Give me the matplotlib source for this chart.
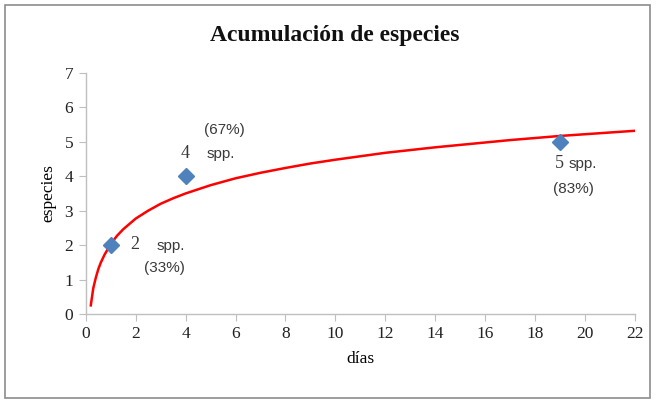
import matplotlib.pyplot as plt
from matplotlib.patches import Rectangle

plt.rcParams['font.family'] = 'Liberation Serif'

# observed points (dias, especies)
obs_x = [1, 4, 19]
obs_y = [2, 4, 5]

# logarithmic trend line
trend_x = [0.2, 0.3, 0.4, 0.5, 0.6, 0.75, 1, 1.25, 1.5, 2, 2.5, 3, 3.5, 4, 5, 6,
           7, 8, 9, 10, 11, 12, 13, 14, 15, 16, 17, 18, 19, 20, 21, 22]
trend_y = [0.25, 0.75, 1.05, 1.3, 1.49, 1.72, 2.03, 2.27, 2.46, 2.77, 3.0, 3.2,
           3.36, 3.5, 3.74, 3.94, 4.1, 4.24, 4.37, 4.48, 4.58, 4.68, 4.76, 4.84,
           4.91, 4.98, 5.05, 5.11, 5.17, 5.22, 5.27, 5.32]

x_ticks = list(range(0, 23, 2))
y_ticks = list(range(0, 8))

fig = plt.figure(figsize=(6.6, 4.03), dpi=100)
ax = fig.add_axes([0.130, 0.221, 0.832, 0.598])

# grey frame round the whole chart
fig.patches.append(Rectangle((5 / 660, 5 / 403), 645 / 660, 393 / 403,
                             transform=fig.transFigure, fill=False,
                             edgecolor='#8c8c8c', linewidth=1.2))

ax.plot(trend_x, trend_y, color='#FF0000', linewidth=1.8, zorder=2,
        solid_joinstyle='round')
ax.plot(obs_x, obs_y, linestyle='none', marker='D', markersize=8,
        color='#4F81BD', zorder=3)

ax.set_xlim(0, 22)
ax.set_ylim(0, 7)
ax.set_xticks(x_ticks)
ax.set_yticks(y_ticks)
for s in ['top', 'right']:
    ax.spines[s].set_visible(False)
for s in ['left', 'bottom']:
    ax.spines[s].set_color('#BFBFBF')
    ax.spines[s].set_linewidth(1.0)
ax.tick_params(direction='out', length=5, color='#BFBFBF', labelsize=12.5,
               labelcolor='#222222', pad=4)

fig.text(335 / 660, 1 - 35 / 403, 'Acumulación de especies', fontsize=17,
         fontweight='bold', ha='center', va='center', color='#111111')
ax.set_xlabel('días', fontsize=12.5, labelpad=6)
ax.set_ylabel('especies', fontsize=12.5, labelpad=6)

# point labels
lab = '#3a3a3a'
sans = 'Liberation Sans'
ax.text(1.8, 2.02, '2', fontsize=13, color=lab, va='center')
ax.text(2.85, 1.98, 'spp.', fontsize=11, color=lab, va='center', family=sans)
ax.text(2.35, 1.34, '(33%)', fontsize=11, color=lab, va='center', family=sans)
ax.text(3.8, 4.65, '4', fontsize=13, color=lab, va='center')
ax.text(4.75, 5.34, '(67%)', fontsize=11, color=lab, va='center', family=sans)
ax.text(4.85, 4.66, 'spp.', fontsize=11, color=lab, va='center', family=sans)
ax.text(18.8, 4.38, '5', fontsize=13, color=lab, va='center')
ax.text(19.35, 4.36, 'spp.', fontsize=11, color=lab, va='center', family=sans)
ax.text(18.7, 3.64, '(83%)', fontsize=11, color=lab, va='center', family=sans)

fig.savefig('out.png', dpi=100)
